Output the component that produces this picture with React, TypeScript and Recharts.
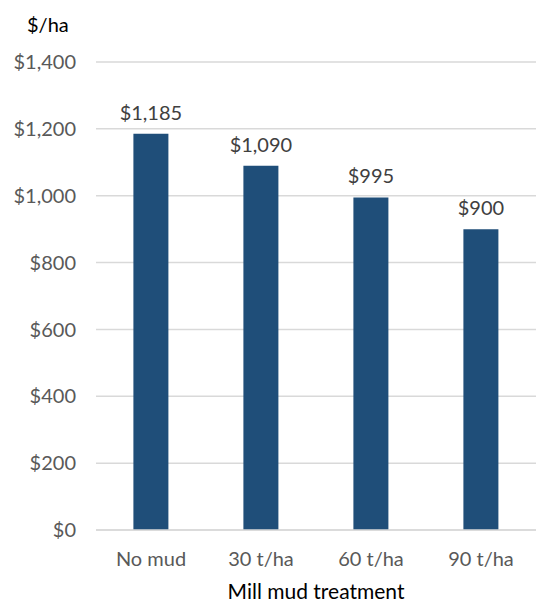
import React from "react";
import { Bar, BarChart, CartesianGrid, LabelList, XAxis, YAxis } from "recharts";

const treatments = ["No mud", "30 t/ha", "60 t/ha", "90 t/ha"];
const returns = [1185, 1090, 995, 900];
const yTicks = [0, 200, 400, 600, 800, 1000, 1200, 1400];

const data = treatments.map((name, i) => ({ name, value: returns[i] }));

const money = (v: number) => `$${v.toLocaleString("en-US")}`;

const FONT = "Lato, 'Open Sans', sans-serif";

export default function App() {
    return (
        <div style={{ position: "absolute", left: 0, top: 0, width: 536, height: 604, background: "#fff", fontFamily: FONT }}>
            <div style={{ position: "absolute", left: 27, top: 12, fontSize: 20, color: "#000" }}>$/ha</div>
            <BarChart
                width={536}
                height={604}
                data={data}
                margin={{ top: 62, right: 0, bottom: 0, left: 0 }}
                barCategoryGap="34%"
            >
                <CartesianGrid vertical={false} stroke="#D9D9D9" strokeWidth={1.5} />
                <XAxis
                    dataKey="name"
                    height={74}
                    tickLine={false}
                    axisLine={{ stroke: "#D9D9D9", strokeWidth: 1.5 }}
                    tick={{ fill: "#595959", fontSize: 20, fontFamily: FONT }}
                    tickMargin={16}
                    label={{ value: "Mill mud treatment", position: "insideBottom", offset: 5, fill: "#000", fontSize: 21, fontFamily: FONT }}
                />
                <YAxis
                    width={96}
                    domain={[0, 1400]}
                    ticks={yTicks}
                    interval={0}
                    tickFormatter={money}
                    tickLine={false}
                    axisLine={false}
                    tick={{ fill: "#595959", fontSize: 20, fontFamily: FONT }}
                    tickMargin={14}
                />
                <Bar dataKey="value" fill="#1F4E79" isAnimationActive={false}>
                    <LabelList
                        dataKey="value"
                        position="top"
                        offset={14}
                        formatter={(v: number) => money(v)}
                        style={{ fill: "#404040", fontSize: 20, fontFamily: FONT }}
                    />
                </Bar>
            </BarChart>
        </div>
    );
}
